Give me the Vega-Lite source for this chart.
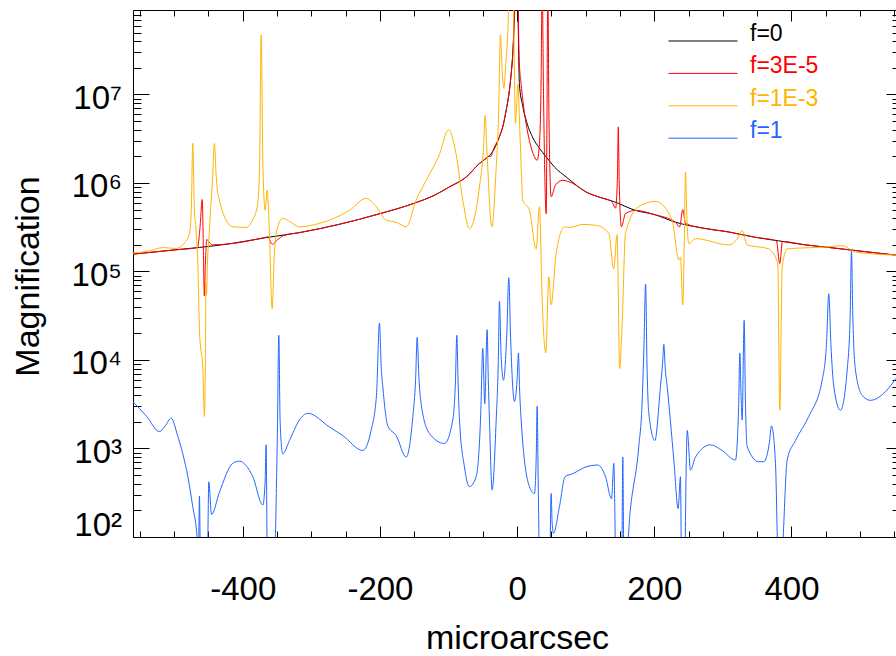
{
"$schema":"https://vega.github.io/schema/vega-lite/v6.json",
"width":763,"height":527,
"autosize":{"type":"none"},
"padding":{"left":133,"top":10,"right":0,"bottom":119},
"background":"white",
"config":{"view":{"stroke":null},"font":"Liberation Sans"},
"datasets":{
"frame":[{"x":0,"m":1000}],
"curves":[
{"f":"f=0","x":-560,"m":157000},{"f":"f=0","x":-500,"m":175000},{"f":"f=0","x":-463,"m":187000},{"f":"f=0","x":-420,"m":205000},{"f":"f=0","x":-365,"m":242000},{"f":"f=0","x":-317,"m":275000},{"f":"f=0","x":-260,"m":340000},{"f":"f=0","x":-200,"m":450000},{"f":"f=0","x":-150,"m":590000},{"f":"f=0","x":-120,"m":730000},{"f":"f=0","x":-99,"m":900000},{"f":"f=0","x":-74,"m":1170000},{"f":"f=0","x":-55,"m":1660000},{"f":"f=0","x":-45,"m":1900000},{"f":"f=0","x":-36,"m":2240000},{"f":"f=0","x":-26,"m":3300000},{"f":"f=0","x":-20,"m":4600000},{"f":"f=0","x":-16,"m":6600000},{"f":"f=0","x":-12,"m":10000000},{"f":"f=0","x":-9,"m":16000000},{"f":"f=0","x":-6,"m":32000000},{"f":"f=0","x":-4,"m":70000000},{"f":"f=0","x":-2,"m":200000000},{"f":"f=0","x":0,"m":300000000},{"f":"f=0","x":1,"m":120000000},{"f":"f=0","x":3.4,"m":13000000},{"f":"f=0","x":8,"m":7500000},{"f":"f=0","x":13.2,"m":5100000},{"f":"f=0","x":22.4,"m":3300000},{"f":"f=0","x":32,"m":2500000},{"f":"f=0","x":42.4,"m":1970000},{"f":"f=0","x":55,"m":1500000},{"f":"f=0","x":71.5,"m":1170000},{"f":"f=0","x":100.7,"m":790000},{"f":"f=0","x":120,"m":690000},{"f":"f=0","x":140,"m":620000},{"f":"f=0","x":172.6,"m":490000},{"f":"f=0","x":200,"m":440000},{"f":"f=0","x":230.9,"m":360000},{"f":"f=0","x":270,"m":310000},{"f":"f=0","x":308,"m":280000},{"f":"f=0","x":345,"m":245000},{"f":"f=0","x":381,"m":222000},{"f":"f=0","x":420,"m":200000},{"f":"f=0","x":454,"m":187000},{"f":"f=0","x":500,"m":170000},{"f":"f=0","x":552.4,"m":153000},

{"f":"f=3E-5","x":-560,"m":157000},{"f":"f=3E-5","x":-500,"m":175000},{"f":"f=3E-5","x":-466,"m":186000},{"f":"f=3E-5","x":-462.5,"m":300000},{"f":"f=3E-5","x":-459,"m":650000},{"f":"f=3E-5","x":-457.5,"m":200000},{"f":"f=3E-5","x":-456,"m":53000},{"f":"f=3E-5","x":-454.5,"m":120000},{"f":"f=3E-5","x":-452.5,"m":230000},{"f":"f=3E-5","x":-448,"m":210000},{"f":"f=3E-5","x":-444,"m":200000},{"f":"f=3E-5","x":-420,"m":205000},{"f":"f=3E-5","x":-372,"m":238000},{"f":"f=3E-5","x":-363.5,"m":246000},{"f":"f=3E-5","x":-357,"m":203000},{"f":"f=3E-5","x":-349,"m":230000},{"f":"f=3E-5","x":-340,"m":255000},{"f":"f=3E-5","x":-317,"m":275000},{"f":"f=3E-5","x":-260,"m":340000},{"f":"f=3E-5","x":-200,"m":450000},{"f":"f=3E-5","x":-150,"m":590000},{"f":"f=3E-5","x":-120,"m":730000},{"f":"f=3E-5","x":-99,"m":900000},{"f":"f=3E-5","x":-74,"m":1170000},{"f":"f=3E-5","x":-55,"m":1660000},{"f":"f=3E-5","x":-45,"m":1900000},{"f":"f=3E-5","x":-41,"m":2000000},{"f":"f=3E-5","x":-38,"m":2000000},{"f":"f=3E-5","x":-36,"m":2240000},{"f":"f=3E-5","x":-26,"m":3300000},{"f":"f=3E-5","x":-20,"m":4600000},{"f":"f=3E-5","x":-16,"m":6600000},{"f":"f=3E-5","x":-12,"m":10000000},{"f":"f=3E-5","x":-9,"m":16000000},{"f":"f=3E-5","x":-6,"m":32000000},{"f":"f=3E-5","x":-4,"m":80000000},{"f":"f=3E-5","x":-2,"m":200000000},{"f":"f=3E-5","x":0.5,"m":200000000},{"f":"f=3E-5","x":3,"m":25000000},{"f":"f=3E-5","x":5.9,"m":13000000},{"f":"f=3E-5","x":8.3,"m":8700000},{"f":"f=3E-5","x":18,"m":3000000},{"f":"f=3E-5","x":25,"m":2000000},{"f":"f=3E-5","x":29.2,"m":1800000},{"f":"f=3E-5","x":32.6,"m":2800000},{"f":"f=3E-5","x":35,"m":15000000},{"f":"f=3E-5","x":36.5,"m":200000000},{"f":"f=3E-5","x":38.5,"m":10000000},{"f":"f=3E-5","x":42.4,"m":450000},{"f":"f=3E-5","x":43.5,"m":5000000},{"f":"f=3E-5","x":44.7,"m":200000000},{"f":"f=3E-5","x":46.5,"m":5000000},{"f":"f=3E-5","x":49.6,"m":700000},{"f":"f=3E-5","x":56,"m":950000},{"f":"f=3E-5","x":66.5,"m":1070000},{"f":"f=3E-5","x":80,"m":1000000},{"f":"f=3E-5","x":100.7,"m":790000},{"f":"f=3E-5","x":120,"m":690000},{"f":"f=3E-5","x":137.7,"m":620000},{"f":"f=3E-5","x":143.6,"m":520000},{"f":"f=3E-5","x":146.3,"m":1200000},{"f":"f=3E-5","x":147.5,"m":4300000},{"f":"f=3E-5","x":149,"m":900000},{"f":"f=3E-5","x":152.1,"m":320000},{"f":"f=3E-5","x":158,"m":450000},{"f":"f=3E-5","x":172.6,"m":490000},{"f":"f=3E-5","x":200,"m":440000},{"f":"f=3E-5","x":230.9,"m":360000},{"f":"f=3E-5","x":236.9,"m":319000},{"f":"f=3E-5","x":241.5,"m":500000},{"f":"f=3E-5","x":245.5,"m":350000},{"f":"f=3E-5","x":270,"m":310000},{"f":"f=3E-5","x":308,"m":280000},{"f":"f=3E-5","x":345,"m":245000},{"f":"f=3E-5","x":378,"m":222000},{"f":"f=3E-5","x":382.9,"m":123000},{"f":"f=3E-5","x":386.9,"m":218000},{"f":"f=3E-5","x":420,"m":200000},{"f":"f=3E-5","x":454,"m":187000},{"f":"f=3E-5","x":500,"m":170000},{"f":"f=3E-5","x":552.4,"m":153000},

{"f":"f=1E-3","x":-560.4,"m":162000},{"f":"f=1E-3","x":-537,"m":170000},{"f":"f=1E-3","x":-516.6,"m":186000},{"f":"f=1E-3","x":-497.1,"m":182000},{"f":"f=1E-3","x":-485,"m":210000},{"f":"f=1E-3","x":-477.7,"m":270000},{"f":"f=1E-3","x":-475,"m":500000},{"f":"f=1E-3","x":-472.9,"m":2800000},{"f":"f=1E-3","x":-470.5,"m":500000},{"f":"f=1E-3","x":-468,"m":295000},{"f":"f=1E-3","x":-465.5,"m":120000},{"f":"f=1E-3","x":-463.1,"m":22000},{"f":"f=1E-3","x":-460.5,"m":12000},{"f":"f=1E-3","x":-458.5,"m":9000},{"f":"f=1E-3","x":-455.8,"m":2300},{"f":"f=1E-3","x":-454.5,"m":9000},{"f":"f=1E-3","x":-453.5,"m":74000},{"f":"f=1E-3","x":-452.8,"m":54000},{"f":"f=1E-3","x":-451.5,"m":120000},{"f":"f=1E-3","x":-448.6,"m":295000},{"f":"f=1E-3","x":-444.2,"m":1070000},{"f":"f=1E-3","x":-441.3,"m":2800000},{"f":"f=1E-3","x":-439,"m":1300000},{"f":"f=1E-3","x":-436.9,"m":830000},{"f":"f=1E-3","x":-434,"m":640000},{"f":"f=1E-3","x":-424.3,"m":380000},{"f":"f=1E-3","x":-414.6,"m":320000},{"f":"f=1E-3","x":-395,"m":314000},{"f":"f=1E-3","x":-385.8,"m":380000},{"f":"f=1E-3","x":-378.5,"m":560000},{"f":"f=1E-3","x":-375.5,"m":1500000},{"f":"f=1E-3","x":-373.1,"m":47000000},{"f":"f=1E-3","x":-370.5,"m":1500000},{"f":"f=1E-3","x":-367.3,"m":490000},{"f":"f=1E-3","x":-364.4,"m":830000},{"f":"f=1E-3","x":-361.1,"m":270000},{"f":"f=1E-3","x":-357.2,"m":38000},{"f":"f=1E-3","x":-354,"m":150000},{"f":"f=1E-3","x":-351.3,"m":270000},{"f":"f=1E-3","x":-341.7,"m":400000},{"f":"f=1E-3","x":-330,"m":360000},{"f":"f=1E-3","x":-317.3,"m":319000},{"f":"f=1E-3","x":-288.1,"m":350000},{"f":"f=1E-3","x":-244.4,"m":490000},{"f":"f=1E-3","x":-220.1,"m":670000},{"f":"f=1E-3","x":-205.5,"m":540000},{"f":"f=1E-3","x":-190.9,"m":380000},{"f":"f=1E-3","x":-176.3,"m":360000},{"f":"f=1E-3","x":-161.7,"m":320000},{"f":"f=1E-3","x":-147.2,"m":640000},{"f":"f=1E-3","x":-132.6,"m":1070000},{"f":"f=1E-3","x":-113.2,"m":2100000},{"f":"f=1E-3","x":-100,"m":4000000},{"f":"f=1E-3","x":-88.9,"m":2100000},{"f":"f=1E-3","x":-79.2,"m":640000},{"f":"f=1E-3","x":-69.5,"m":306000},{"f":"f=1E-3","x":-54.9,"m":900000},{"f":"f=1E-3","x":-49,"m":2500000},{"f":"f=1E-3","x":-46.6,"m":5800000},{"f":"f=1E-3","x":-44.5,"m":2800000},{"f":"f=1E-3","x":-42.8,"m":1500000},{"f":"f=1E-3","x":-36.9,"m":320000},{"f":"f=1E-3","x":-30.5,"m":1500000},{"f":"f=1E-3","x":-27,"m":6000000},{"f":"f=1E-3","x":-24.3,"m":47000000},{"f":"f=1E-3","x":-22,"m":20000000},{"f":"f=1E-3","x":-19.4,"m":11700000},{"f":"f=1E-3","x":-16,"m":25000000},{"f":"f=1E-3","x":-13.6,"m":49000000},{"f":"f=1E-3","x":-11.2,"m":200000000},{"f":"f=1E-3","x":-6,"m":200000000},{"f":"f=1E-3","x":-4,"m":20000000},{"f":"f=1E-3","x":-2.4,"m":4700000},{"f":"f=1E-3","x":-0.5,"m":8000000},{"f":"f=1E-3","x":1,"m":13000000},{"f":"f=1E-3","x":4.6,"m":2900000},{"f":"f=1E-3","x":8.3,"m":640000},{"f":"f=1E-3","x":18,"m":490000},{"f":"f=1E-3","x":27.8,"m":180000},{"f":"f=1E-3","x":32.6,"m":540000},{"f":"f=1E-3","x":36.5,"m":48000},{"f":"f=1E-3","x":41.8,"m":12000},{"f":"f=1E-3","x":46.2,"m":87000},{"f":"f=1E-3","x":49.6,"m":42000},{"f":"f=1E-3","x":56.9,"m":160000},{"f":"f=1E-3","x":69,"m":319000},{"f":"f=1E-3","x":76.3,"m":314000},{"f":"f=1E-3","x":95.7,"m":340000},{"f":"f=1E-3","x":114.4,"m":333000},{"f":"f=1E-3","x":133.6,"m":270000},{"f":"f=1E-3","x":140.9,"m":107000},{"f":"f=1E-3","x":145.8,"m":260000},{"f":"f=1E-3","x":147.5,"m":60000},{"f":"f=1E-3","x":149.4,"m":8000},{"f":"f=1E-3","x":153.2,"m":26000},{"f":"f=1E-3","x":158,"m":270000},{"f":"f=1E-3","x":177.4,"m":540000},{"f":"f=1E-3","x":201.7,"m":620000},{"f":"f=1E-3","x":226,"m":380000},{"f":"f=1E-3","x":235.7,"m":135000},{"f":"f=1E-3","x":238.2,"m":146000},{"f":"f=1E-3","x":241.5,"m":42000},{"f":"f=1E-3","x":244,"m":300000},{"f":"f=1E-3","x":245.5,"m":1330000},{"f":"f=1E-3","x":247.5,"m":400000},{"f":"f=1E-3","x":250.3,"m":207000},{"f":"f=1E-3","x":260,"m":235000},{"f":"f=1E-3","x":308.6,"m":200000},{"f":"f=1E-3","x":322,"m":240000},{"f":"f=1E-3","x":328.1,"m":290000},{"f":"f=1E-3","x":335.4,"m":200000},{"f":"f=1E-3","x":366.9,"m":180000},{"f":"f=1E-3","x":380,"m":123000},{"f":"f=1E-3","x":383,"m":2700},{"f":"f=1E-3","x":386.5,"m":112000},{"f":"f=1E-3","x":393.7,"m":180000},{"f":"f=1E-3","x":454.4,"m":190000},{"f":"f=1E-3","x":473.9,"m":196000},{"f":"f=1E-3","x":493.3,"m":166000},{"f":"f=1E-3","x":552.4,"m":153000},

{"f":"f=1","x":-560.4,"m":3400},{"f":"f=1","x":-540,"m":2300},{"f":"f=1","x":-521.4,"m":1550},{"f":"f=1","x":-513,"m":1800},{"f":"f=1","x":-504.4,"m":2200},{"f":"f=1","x":-495,"m":1400},{"f":"f=1","x":-487.4,"m":870},{"f":"f=1","x":-480,"m":480},{"f":"f=1","x":-472.9,"m":220},{"f":"f=1","x":-467,"m":110},{"f":"f=1","x":-464.6,"m":60},{"f":"f=1","x":-463.1,"m":290},{"f":"f=1","x":-461.7,"m":60},{"f":"f=1","x":-451.5,"m":60},{"f":"f=1","x":-449.5,"m":420},{"f":"f=1","x":-445.5,"m":180},{"f":"f=1","x":-434,"m":320},{"f":"f=1","x":-414.6,"m":680},{"f":"f=1","x":-404.8,"m":720},{"f":"f=1","x":-395,"m":640},{"f":"f=1","x":-385.3,"m":480},{"f":"f=1","x":-370.7,"m":230},{"f":"f=1","x":-367.5,"m":400},{"f":"f=1","x":-365.9,"m":1100},{"f":"f=1","x":-364.2,"m":60},{"f":"f=1","x":-354,"m":60},{"f":"f=1","x":-349.5,"m":1500},{"f":"f=1","x":-347.4,"m":19000},{"f":"f=1","x":-345.5,"m":2000},{"f":"f=1","x":-341.7,"m":870},{"f":"f=1","x":-331.9,"m":1230},{"f":"f=1","x":-317.3,"m":2100},{"f":"f=1","x":-305.2,"m":2500},{"f":"f=1","x":-273.6,"m":1750},{"f":"f=1","x":-254.2,"m":1400},{"f":"f=1","x":-225,"m":950},{"f":"f=1","x":-212.9,"m":1600},{"f":"f=1","x":-205,"m":4000},{"f":"f=1","x":-200.7,"m":26000},{"f":"f=1","x":-198,"m":8000},{"f":"f=1","x":-195.8,"m":5000},{"f":"f=1","x":-188.5,"m":1800},{"f":"f=1","x":-176.3,"m":1400},{"f":"f=1","x":-161.7,"m":800},{"f":"f=1","x":-152,"m":2300},{"f":"f=1","x":-148,"m":6000},{"f":"f=1","x":-145.7,"m":18000},{"f":"f=1","x":-143,"m":6000},{"f":"f=1","x":-139.9,"m":3200},{"f":"f=1","x":-127.8,"m":1480},{"f":"f=1","x":-105.9,"m":1140},{"f":"f=1","x":-93.8,"m":2100},{"f":"f=1","x":-90,"m":5500},{"f":"f=1","x":-87.9,"m":19000},{"f":"f=1","x":-86,"m":5500},{"f":"f=1","x":-84,"m":2100},{"f":"f=1","x":-76.8,"m":620},{"f":"f=1","x":-69.5,"m":370},{"f":"f=1","x":-59.7,"m":480},{"f":"f=1","x":-53,"m":2500},{"f":"f=1","x":-50.1,"m":13500},{"f":"f=1","x":-47.2,"m":3200},{"f":"f=1","x":-43.7,"m":22000},{"f":"f=1","x":-42,"m":6000},{"f":"f=1","x":-40.3,"m":2100},{"f":"f=1","x":-36.4,"m":340},{"f":"f=1","x":-30.5,"m":2100},{"f":"f=1","x":-27.5,"m":9000},{"f":"f=1","x":-25.7,"m":46000},{"f":"f=1","x":-23.5,"m":12000},{"f":"f=1","x":-19.9,"m":5900},{"f":"f=1","x":-15,"m":20000},{"f":"f=1","x":-12.1,"m":85000},{"f":"f=1","x":-9.5,"m":18000},{"f":"f=1","x":-3.9,"m":3400},{"f":"f=1","x":0,"m":6000},{"f":"f=1","x":2,"m":12000},{"f":"f=1","x":3.5,"m":5000},{"f":"f=1","x":5.9,"m":2100},{"f":"f=1","x":18,"m":370},{"f":"f=1","x":25.3,"m":310},{"f":"f=1","x":28,"m":900},{"f":"f=1","x":29.2,"m":3000},{"f":"f=1","x":31,"m":300},{"f":"f=1","x":32.6,"m":60},{"f":"f=1","x":47.6,"m":60},{"f":"f=1","x":49.6,"m":310},{"f":"f=1","x":51,"m":150},{"f":"f=1","x":53,"m":110},{"f":"f=1","x":61.7,"m":220},{"f":"f=1","x":70,"m":480},{"f":"f=1","x":81.2,"m":520},{"f":"f=1","x":100.6,"m":620},{"f":"f=1","x":117.6,"m":650},{"f":"f=1","x":128.9,"m":480},{"f":"f=1","x":137.7,"m":270},{"f":"f=1","x":141,"m":680},{"f":"f=1","x":142.5,"m":200},{"f":"f=1","x":143.5,"m":60},{"f":"f=1","x":152.6,"m":60},{"f":"f=1","x":154.1,"m":800},{"f":"f=1","x":155.6,"m":60},{"f":"f=1","x":159,"m":60},{"f":"f=1","x":165,"m":200},{"f":"f=1","x":177.4,"m":1050},{"f":"f=1","x":182,"m":3000},{"f":"f=1","x":185,"m":15000},{"f":"f=1","x":187.3,"m":72000},{"f":"f=1","x":189.5,"m":8000},{"f":"f=1","x":192,"m":2500},{"f":"f=1","x":200.8,"m":1230},{"f":"f=1","x":209,"m":5000},{"f":"f=1","x":212,"m":9000},{"f":"f=1","x":213.9,"m":15000},{"f":"f=1","x":216,"m":8000},{"f":"f=1","x":218.8,"m":5000},{"f":"f=1","x":228.5,"m":740},{"f":"f=1","x":234.8,"m":210},{"f":"f=1","x":238.2,"m":480},{"f":"f=1","x":239.6,"m":60},{"f":"f=1","x":244.5,"m":60},{"f":"f=1","x":246.5,"m":600},{"f":"f=1","x":248,"m":1600},{"f":"f=1","x":252.8,"m":570},{"f":"f=1","x":260,"m":800},{"f":"f=1","x":281.9,"m":1100},{"f":"f=1","x":298.9,"m":950},{"f":"f=1","x":318.3,"m":740},{"f":"f=1","x":323,"m":3000},{"f":"f=1","x":324.7,"m":12000},{"f":"f=1","x":326.5,"m":4000},{"f":"f=1","x":328.1,"m":2100},{"f":"f=1","x":331,"m":28000},{"f":"f=1","x":333,"m":3000},{"f":"f=1","x":335.4,"m":1050},{"f":"f=1","x":352.3,"m":710},{"f":"f=1","x":359.6,"m":710},{"f":"f=1","x":368,"m":1200},{"f":"f=1","x":370.8,"m":1800},{"f":"f=1","x":376.7,"m":680},{"f":"f=1","x":380.6,"m":60},{"f":"f=1","x":385.4,"m":60},{"f":"f=1","x":393.7,"m":740},{"f":"f=1","x":405.8,"m":1230},{"f":"f=1","x":425.2,"m":2300},{"f":"f=1","x":444.7,"m":5900},{"f":"f=1","x":451,"m":15000},{"f":"f=1","x":454.4,"m":56000},{"f":"f=1","x":457.5,"m":15000},{"f":"f=1","x":461.7,"m":5000},{"f":"f=1","x":471.4,"m":2700},{"f":"f=1","x":481.2,"m":7700},{"f":"f=1","x":485.5,"m":30000},{"f":"f=1","x":487.5,"m":170000},{"f":"f=1","x":489.5,"m":30000},{"f":"f=1","x":493.3,"m":7700},{"f":"f=1","x":503,"m":4000},{"f":"f=1","x":515.2,"m":3500},{"f":"f=1","x":537.1,"m":4400},{"f":"f=1","x":552.4,"m":6200}
]},
"layer":[
{"data":{"name":"curves"},
 "mark":{"type":"line","clip":true,"strokeWidth":1,"interpolate":"monotone"},
 "encoding":{
  "x":{"field":"x","type":"quantitative","scale":{"domain":[-560,552.4],"nice":false,"zero":false},
   "axis":{"orient":"bottom","values":[-550,-500,-450,-400,-350,-300,-250,-200,-150,-100,-50,0,50,100,150,200,250,300,350,400,450,500,550],
    "labelExpr":"datum.value % 200 == 0 ? '' + datum.value : ''",
    "ticks":false,
    "grid":true,"gridColor":"black","gridWidth":1,"gridOpacity":1,
    "gridDash":{"condition":{"test":"datum.value % 200 == 0","value":[11,505,11,2000]},"value":[6,515,6,2000]},
    "labelPadding":36,"labelFontSize":33,"labelFont":"Liberation Sans","labelColor":"black","labelBaseline":"top","labelOverlap":false,"labelFlush":false,
    "domainColor":"black","domainWidth":1,
    "title":"microarcsec","titleFont":"Liberation Sans","titleFontSize":34,"titleFontWeight":"normal","titleColor":"black",
    "titleX":384,"titleY":111,"titleBaseline":"alphabetic","titleAlign":"center"}},
  "y":{"field":"m","type":"quantitative","scale":{"type":"log","domain":[100,90000000],"nice":false},
   "axis":{"orient":"left","values":[100,200,300,400,500,600,700,800,900,1000,2000,3000,4000,5000,6000,7000,8000,9000,10000,20000,30000,40000,50000,60000,70000,80000,90000,100000,200000,300000,400000,500000,600000,700000,800000,900000,1000000,2000000,3000000,4000000,5000000,6000000,7000000,8000000,9000000,10000000,20000000,30000000,40000000,50000000,60000000,70000000,80000000,90000000],
    "labelExpr":"abs(log(datum.value)/LN10 - round(log(datum.value)/LN10)) < 0.001 ? '10' + ['⁰','¹','²','³','⁴','⁵','⁶','⁷','⁸','⁹'][round(log(datum.value)/LN10)] : ''",
    "ticks":false,
    "grid":true,"gridColor":"black","gridWidth":1,"gridOpacity":1,
    "gridDash":{"condition":{"test":"abs(log(datum.value)/LN10 - round(log(datum.value)/LN10)) < 0.001","value":[16,737,10,2000]},"value":[8,751,4,2000]},
    "labelOffset":{"condition":{"test":"datum.value == 100","value":-12},"value":4},
    "labelPadding":11.5,"labelFontSize":33,"labelFont":"Liberation Sans","labelColor":"black","labelOverlap":false,"labelFlush":false,
    "domainColor":"black","domainWidth":1,
    "title":"Magnification","titleFont":"Liberation Sans","titleFontSize":34,"titleFontWeight":"normal","titleColor":"black",
    "titleX":-94.5,"titleY":266,"titleAngle":-90,"titleBaseline":"alphabetic","titleAlign":"center"}},
  "color":{"field":"f","type":"nominal",
   "scale":{"domain":["f=0","f=3E-5","f=1E-3","f=1"],"range":["#000000","#ff0000","#ffb400","#2266ff"]},
   "legend":{"orient":"none","legendX":535,"legendY":19,"title":null,"padding":0,
    "symbolType":"M-1,0H5","symbolSize":529,"symbolStrokeWidth":1,
    "labelFont":"Liberation Sans","labelFontSize":23,"labelBaseline":"alphabetic","labelOffset":58,"labelLimit":0,"rowPadding":9.4,
    "encode":{"labels":{"update":{"fill":{"scale":"color","field":"value"}}}}}}
 }},
{"data":{"name":"frame"},
 "mark":{"type":"point","opacity":0},
 "encoding":{
  "x":{"field":"x","type":"quantitative",
   "axis":{"orient":"top","labels":false,"title":null,"grid":false,"ticks":false,"domainColor":"black","domainWidth":1}},
  "y":{"field":"m","type":"quantitative","axis":null}
 }}
],
"resolve":{"axis":{"x":"independent","y":"independent"}}
}
